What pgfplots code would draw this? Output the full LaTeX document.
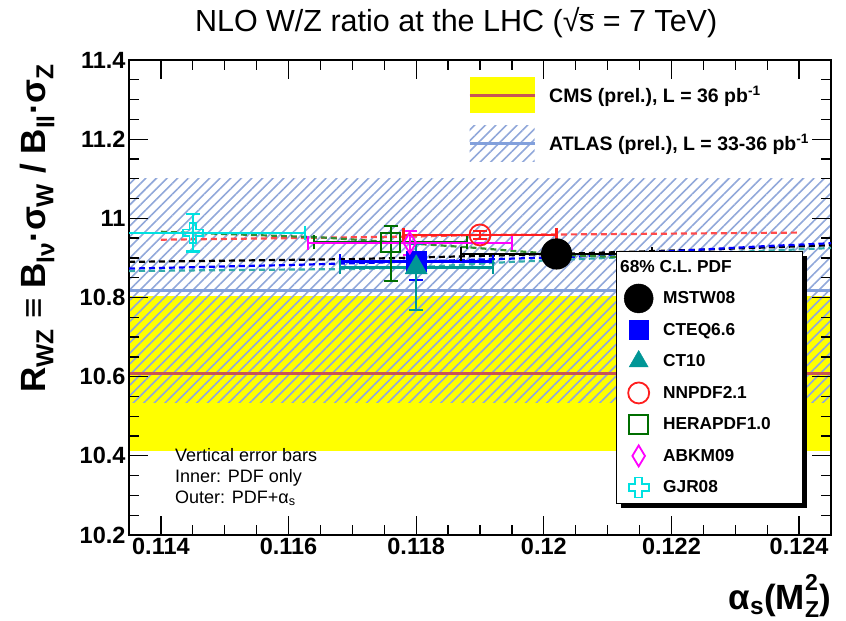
\documentclass[border=0pt]{standalone}
\usepackage{pgfplots}
\pgfplotsset{compat=1.18}
\usepackage{fontspec}
\setmainfont{Liberation Sans}
\usetikzlibrary{patterns.meta,shadows}

\definecolor{cmsyellow}{RGB}{255,255,0}
\definecolor{cmsred}{RGB}{200,85,85}
\definecolor{atlasline}{RGB}{130,160,220}
\definecolor{atlashatch}{RGB}{145,168,218}
\definecolor{cteq}{RGB}{0,0,255}
\definecolor{ct}{RGB}{0,150,150}
\definecolor{nnpdf}{RGB}{255,30,30}
\definecolor{hera}{RGB}{0,110,0}
\definecolor{abkm}{RGB}{255,0,255}
\definecolor{gjr}{RGB}{0,225,225}

% hollow "plus" marker
\pgfdeclareplotmark{ocross}{%
  \pgfpathmoveto{\pgfpoint{0.34\pgfplotmarksize}{0.34\pgfplotmarksize}}%
  \pgfpathlineto{\pgfpoint{0.34\pgfplotmarksize}{\pgfplotmarksize}}%
  \pgfpathlineto{\pgfpoint{-0.34\pgfplotmarksize}{\pgfplotmarksize}}%
  \pgfpathlineto{\pgfpoint{-0.34\pgfplotmarksize}{0.34\pgfplotmarksize}}%
  \pgfpathlineto{\pgfpoint{-\pgfplotmarksize}{0.34\pgfplotmarksize}}%
  \pgfpathlineto{\pgfpoint{-\pgfplotmarksize}{-0.34\pgfplotmarksize}}%
  \pgfpathlineto{\pgfpoint{-0.34\pgfplotmarksize}{-0.34\pgfplotmarksize}}%
  \pgfpathlineto{\pgfpoint{-0.34\pgfplotmarksize}{-\pgfplotmarksize}}%
  \pgfpathlineto{\pgfpoint{0.34\pgfplotmarksize}{-\pgfplotmarksize}}%
  \pgfpathlineto{\pgfpoint{0.34\pgfplotmarksize}{-0.34\pgfplotmarksize}}%
  \pgfpathlineto{\pgfpoint{\pgfplotmarksize}{-0.34\pgfplotmarksize}}%
  \pgfpathlineto{\pgfpoint{\pgfplotmarksize}{0.34\pgfplotmarksize}}%
  \pgfpathclose
  \pgfusepathqstroke
}

\pgfplotsset{
  legmark/.style={legend image code/.code={\draw[only marks,#1] plot coordinates {(0pt,0pt)};}},
  pdfpt/.style={only marks, forget plot, line width=2.2pt,
    error bars/x dir=both, error bars/x explicit,
    error bars/y dir=both, error bars/y explicit,
    error bars/error mark=-,
    error bars/error bar style={line width=2.2pt},
    error bars/error mark options={rotate=90, mark size=7pt, line width=2.2pt}},
  pdfline/.style={forget plot, no marks, line width=2.2pt, dash pattern=on 6pt off 4pt},
}
\newcommand\lt[1]{\makebox[131pt][l]{#1}}

\begin{document}
\begin{tikzpicture}

% measured bands: CMS and ATLAS
\begin{axis}[
  at={(129pt,86pt)}, anchor=south west, scale only axis,
  width=702pt, height=475pt,
  xmin=0.1135, xmax=0.1245, ymin=10.2, ymax=11.4,
  hide axis,
  legend style={at={(0.4829,0.9768)}, anchor=north west, draw=none, fill=none,
    inner sep=0pt, row sep=0pt, column sep=12pt,
    nodes={minimum height=48pt, inner ysep=0pt, inner xsep=1pt, anchor=west},
    font=\fontsize{19.5}{20}\selectfont\bfseries},
  legend cell align=left,
]
\addplot[fill=cmsyellow, draw=none,
  legend image code/.code={
    \fill[cmsyellow] (0pt,-18pt) rectangle (65pt,18pt);
    \draw[cmsred, line width=3pt] (0pt,0pt) -- (65pt,0pt);}]
  coordinates {(0.1135,10.412) (0.1245,10.412) (0.1245,10.804) (0.1135,10.804)} -- cycle;
\addlegendentry{CMS (prel.), L = 36 pb\textsuperscript{-1}}
\addplot[draw=none, pattern={Lines[angle=45,distance=7.5pt,line width=1.6pt]}, pattern color=atlashatch,
  legend image code/.code={
    \fill[pattern={Lines[angle=45,distance=7.5pt,line width=1.6pt]}, pattern color=atlashatch] (0pt,-18pt) rectangle (65pt,18pt);
    \draw[atlasline, line width=3pt] (0pt,0pt) -- (65pt,0pt);}]
  coordinates {(0.1135,10.535) (0.1245,10.535) (0.1245,11.100) (0.1135,11.100)} -- cycle;
\addlegendentry{ATLAS (prel.), L = 33-36 pb\textsuperscript{-1}}
\addplot[cmsred, line width=3pt, forget plot] coordinates {(0.1135,10.608) (0.1245,10.608)};
\addplot[atlasline, line width=3pt, forget plot] coordinates {(0.1135,10.818) (0.1245,10.818)};
\end{axis}

% NLO predictions for the PDF sets
\begin{axis}[
  at={(129pt,86pt)}, anchor=south west, scale only axis,
  width=702pt, height=475pt,
  xmin=0.1135, xmax=0.1245, ymin=10.2, ymax=11.4,
  xtick={0.114,0.116,0.118,0.12,0.122,0.124},
  ytick={10.2,10.4,10.6,10.8,11,11.2,11.4},
  minor x tick num=3, minor y tick num=3,
  scaled x ticks=false, scaled y ticks=false,
  xticklabel style={/pgf/number format/fixed, /pgf/number format/precision=3},
  yticklabel style={/pgf/number format/fixed, /pgf/number format/precision=1},
  /pgf/number format/assume math mode=true,
  tick label style={font=\fontsize{23.5}{24}\selectfont\bfseries},
  tick align=inside,
  major tick length=19pt, minor tick length=10pt,
  tick style={black, line width=1.3pt},
  axis line style={line width=1.8pt},
  title={NLO W/Z ratio at the LHC (√\kern-0.5pt$\overline{\hbox{s}}$ = 7 TeV)},
  title style={at={(0.466,1)}, anchor=south, yshift=16pt, inner sep=0pt,
    font=\fontsize{30.5}{31}\selectfont},
  xlabel={α\textsubscript{s}(M\rlap{\raisebox{0.55em}{\fontsize{23}{23}\selectfont 2}}\raisebox{-0.22em}{\fontsize{23}{23}\selectfont Z})},
  xlabel style={at={(1,0)}, anchor=north east, yshift=-39pt, inner sep=0pt,
    font=\fontsize{35}{35}\selectfont\bfseries},
  ylabel={R\textsubscript{WZ} ≡ B\textsubscript{lν}·σ\textsubscript{W} / B\textsubscript{ll}·σ\textsubscript{Z}},
  ylabel style={at={(-0.131,0.646)}, anchor=center, inner sep=0pt,
    font=\fontsize{35}{35}\selectfont\bfseries},
  legend style={at={(0.6937,0.5979)}, anchor=north west, draw=black, fill=white,
    inner xsep=8pt, inner ysep=0pt, row sep=0pt, column sep=10pt,
    nodes={minimum height=31.5pt, inner ysep=0pt, inner xsep=0pt, anchor=west},
    font=\fontsize{17.3}{18}\selectfont\bfseries,
    drop shadow={shadow xshift=5pt, shadow yshift=-5pt, fill=black, opacity=1}},
  legend cell align=left,
]
% alpha_s dependence of each set
\addplot[pdfline, black] coordinates {(0.1135,10.890) (0.117,10.897) (0.1185,10.903) (0.1202,10.910) (0.1225,10.921) (0.1245,10.932)};
\addplot[pdfline, cteq] coordinates {(0.1135,10.873) (0.116,10.882) (0.118,10.891) (0.1205,10.903) (0.122,10.917) (0.1235,10.930) (0.1245,10.937)};
\addplot[pdfline, ct!80] coordinates {(0.1135,10.867) (0.117,10.872) (0.118,10.876) (0.1195,10.890) (0.121,10.900) (0.123,10.915) (0.1245,10.925)};
\addplot[pdfline, nnpdf!80] coordinates {(0.114,10.946) (0.116,10.950) (0.118,10.954) (0.119,10.958) (0.121,10.960) (0.124,10.964)};
\addplot[pdfline, hera!80] coordinates {(0.114,10.966) (0.1165,10.952) (0.1176,10.940) (0.1188,10.927) (0.1195,10.918) (0.1205,10.906) (0.122,10.898)};

% central predictions with uncertainties
\addplot[pdfpt, color=cteq, mark=square*, mark size=9.5pt]
  coordinates {(0.1180,10.891) +- (0.0012,0.046)};
\addplot[pdfpt, color=ct, mark=triangle*, mark size=11pt]
  coordinates {(0.1180,10.876) += (0.0012,0.060) -= (0.0012,0.108)};
\addplot[pdfpt, color=hera, mark=square, mark size=9.5pt, mark options={line width=1.8pt}]
  coordinates {(0.1176,10.939) += (0.0012,0.041) -= (0.0012,0.097)};
\addplot[pdfpt, color=abkm, mark=diamond, mark size=10.5pt, mark options={line width=1.8pt, xscale=0.8}]
  coordinates {(0.1179,10.938) +- (0.0016,0.030)};
\addplot[pdfpt, color=nnpdf, mark=o, mark size=10.5pt, mark options={line width=1.8pt}]
  coordinates {(0.1190,10.958) +- (0.0012,0.010)};
\addplot[pdfpt, color=gjr, mark=ocross, mark size=10pt, mark options={line width=1.8pt}]
  coordinates {(0.1145,10.963) +- (0.00176,0.047)};
\addplot[pdfpt, color=black, mark=*, mark size=14.5pt]
  coordinates {(0.1202,10.910) +- (0.0015,0.012)};

\addlegendimage{empty legend}
\addlegendentry{\lt{\hspace*{-43pt}68\% C.L. PDF}}
\addlegendimage{legmark={mark=*, mark size=14.5pt, black}}
\addlegendentry{\lt{MSTW08}}
\addlegendimage{legmark={mark=square*, mark size=9.5pt, cteq}}
\addlegendentry{\lt{CTEQ6.6}}
\addlegendimage{legmark={mark=triangle*, mark size=11pt, ct}}
\addlegendentry{\lt{CT10}}
\addlegendimage{legmark={mark=o, mark size=10.5pt, nnpdf, line width=1.8pt}}
\addlegendentry{\lt{NNPDF2.1}}
\addlegendimage{legmark={mark=square, mark size=9.5pt, hera, line width=1.8pt}}
\addlegendentry{\lt{HERAPDF1.0}}
\addlegendimage{legmark={mark=diamond, mark size=10.5pt, abkm, line width=1.8pt, mark options={xscale=0.8}}}
\addlegendentry{\lt{ABKM09}}
\addlegendimage{legmark={mark=ocross, mark size=10pt, gjr, line width=1.8pt}}
\addlegendentry{\lt{GJR08}}

\node[anchor=north west, align=left, inner sep=0pt, font=\fontsize{18}{21}\selectfont]
  at (rel axis cs:0.0655,0.183)
  {Vertical error bars\\Inner: PDF only\\Outer: PDF+α\textsubscript{s}};
\end{axis}

\pgfresetboundingbox
\useasboundingbox (0pt,0pt) rectangle (846pt,621pt);
\end{tikzpicture}
\end{document}
